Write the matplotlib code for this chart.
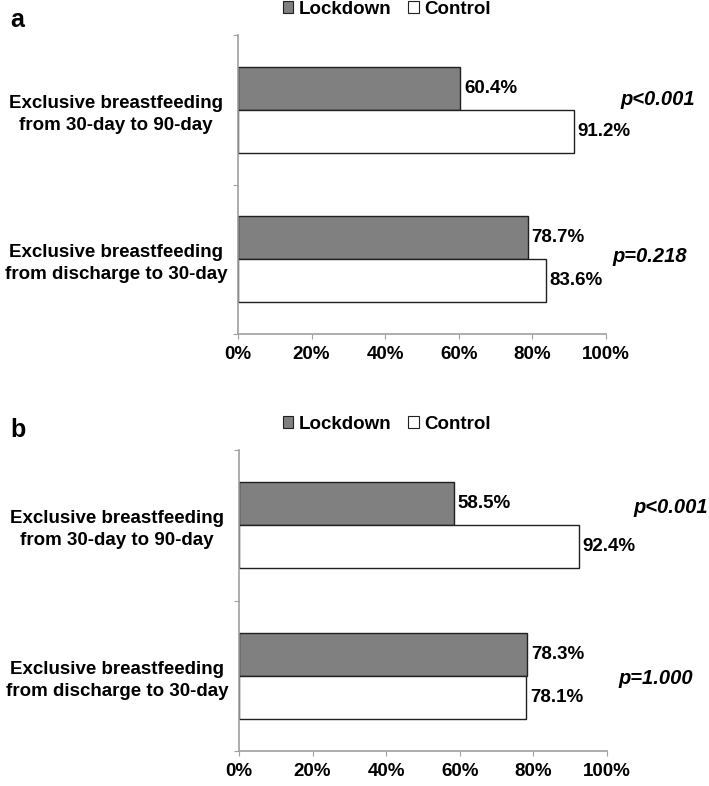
import numpy as np
import matplotlib.pyplot as plt
from matplotlib.patches import Patch

plt.rcParams['font.family'] = ['Liberation Sans', 'DejaVu Sans']
plt.rcParams['font.weight'] = 'bold'

# categories bottom -> top
categories = ['Exclusive breastfeeding\nfrom discharge to 30-day',
              'Exclusive breastfeeding\nfrom 30-day to 90-day']
lockdown_a = [78.7, 60.4]
control_a = [83.6, 91.2]
pvals_a = ['p=0.218', 'p<0.001']
lockdown_b = [78.3, 58.5]
control_b = [78.1, 92.4]
pvals_b = ['p=1.000', 'p<0.001']
xticks = [0, 20, 40, 60, 80, 100]

fig = plt.figure(figsize=(7.09, 7.86), dpi=100)
W, H = 709, 786
FS = 13.5


def draw_panel(box, letter, lock, ctrl, pvals, pvals_pos, legend_y, letter_y):
    l, t, r, b = box
    ax = fig.add_axes([l / W, 1 - b / H, (r - l) / W, (b - t) / H])
    h = 0.287
    centers = np.arange(len(categories)) + 0.5
    ax.barh(centers, lock, height=h, align='edge', color='#808080',
            edgecolor='#202020', linewidth=1)
    ax.barh(centers - h, ctrl, height=h, align='edge', color='white',
            edgecolor='#202020', linewidth=1)
    for c, v in zip(centers, lock):
        ax.text(v + 1.0, c + h / 2, f'{v:.1f}%', va='center', ha='left',
                fontsize=FS, fontweight='bold')
    for c, v in zip(centers, ctrl):
        ax.text(v + 1.0, c - h / 2, f'{v:.1f}%', va='center', ha='left',
                fontsize=FS, fontweight='bold')
    for (xp, yp), p in zip(pvals_pos, pvals):
        ax.text(xp, yp, p, ha='right', va='center',
                fontsize=14.5, fontweight='bold', style='italic')

    ax.set_xlim(0, 100)
    ax.set_ylim(0, 2)
    ax.set_xticks(xticks)
    ax.set_xticklabels([f'{x}%' for x in xticks], fontsize=FS, fontweight='bold')
    ax.set_yticks([0, 1, 2])
    ax.set_yticklabels([])
    ax.set_yticks(centers, minor=True)
    ax.set_yticklabels(categories, minor=True, fontsize=FS,
                       fontweight='bold', ha='center', multialignment='center',
                       linespacing=1.4)
    ax.tick_params(axis='y', which='minor', length=0, pad=88)
    ax.tick_params(axis='y', which='major', length=3.6, color='#a0a0a0')
    ax.tick_params(axis='x', length=3.6, color='#a0a0a0', pad=5)
    for s in ['top', 'right']:
        ax.spines[s].set_visible(False)
    for s in ['left', 'bottom']:
        ax.spines[s].set_color('#a0a0a0')
        ax.spines[s].set_linewidth(1.2)

    fig.text(10 / W, 1 - letter_y / H, letter, fontsize=18, fontweight='bold',
             va='center', ha='left')
    handles = [Patch(facecolor='#808080', edgecolor='#202020', linewidth=0.8),
               Patch(facecolor='white', edgecolor='#202020', linewidth=0.8)]
    fig.legend(handles, ['Lockdown', 'Control'], loc='center',
               bbox_to_anchor=(387 / W, 1 - legend_y / H), ncol=2, frameon=False,
               fontsize=FS, handlelength=0.55, handleheight=0.55,
               handletextpad=0.3, columnspacing=0.9, borderaxespad=0)
    return ax


# p-value x positions in data units (axis spans 0..100)
draw_panel((238, 35, 606, 334), 'a', lockdown_a, control_a, pvals_a,
           [(122.0, 0.52), (124.3, 1.567)],
           legend_y=9, letter_y=20)
draw_panel((239, 450, 607, 751), 'b', lockdown_b, control_b, pvals_b,
           [(123.5, 0.48), (127.5, 1.62)],
           legend_y=424, letter_y=430)

fig.savefig('out.png', dpi=100)
